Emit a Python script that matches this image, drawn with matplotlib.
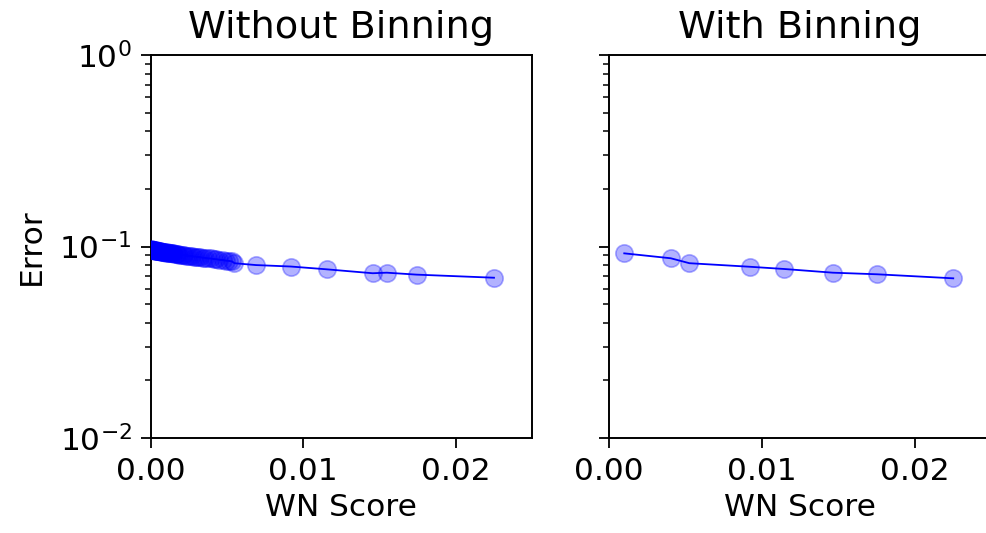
import numpy as np
import matplotlib
matplotlib.use('Agg')
import matplotlib.pyplot as plt

# WN score vs error, every run (left) and after binning (right)
wn_all = [0.00000, 0.00003, 0.00005, 0.00008, 0.00010, 0.00013, 0.00015, 0.00018,
          0.00020, 0.00024, 0.00027, 0.00030, 0.00034, 0.00037, 0.00040, 0.00044,
          0.00048, 0.00052, 0.00056, 0.00060, 0.00065, 0.00070, 0.00075, 0.00080,
          0.00085, 0.00090, 0.00096, 0.00102, 0.00108, 0.00114, 0.00120, 0.00127,
          0.00134, 0.00141, 0.00148, 0.00156, 0.00164, 0.00172, 0.00181, 0.00190,
          0.00200, 0.00210, 0.00221, 0.00232, 0.00244, 0.00256, 0.00269, 0.00282,
          0.00296, 0.00311, 0.00326, 0.00342, 0.00359, 0.00376, 0.00394, 0.00413,
          0.00432, 0.00452, 0.00472, 0.00493, 0.00514, 0.00535, 0.00550,
          0.0069, 0.0092, 0.01155, 0.01456, 0.01548, 0.01744, 0.02251]
err_all = [0.0968, 0.0962, 0.0966, 0.0960, 0.0964, 0.0958, 0.0962, 0.0957,
           0.0961, 0.0955, 0.0958, 0.0953, 0.0955, 0.0951, 0.0953, 0.0949,
           0.0950, 0.0946, 0.0947, 0.0943, 0.0945, 0.0940, 0.0941, 0.0937,
           0.0938, 0.0934, 0.0935, 0.0930, 0.0931, 0.0927, 0.0928, 0.0924,
           0.0924, 0.0920, 0.0920, 0.0916, 0.0916, 0.0912, 0.0912, 0.0907,
           0.0907, 0.0902, 0.0902, 0.0897, 0.0897, 0.0892, 0.0891, 0.0886,
           0.0886, 0.0880, 0.0879, 0.0874, 0.0872, 0.0867, 0.0866, 0.0860,
           0.0858, 0.0852, 0.0850, 0.0844, 0.0841, 0.0835, 0.0818,
           0.0800, 0.0786, 0.0760, 0.0725, 0.0730, 0.0713, 0.0687]

wn_binned = [0.00098, 0.00403, 0.00525, 0.00919, 0.01147, 0.01464, 0.01755, 0.02254]
err_binned = [0.0921, 0.0868, 0.0818, 0.0784, 0.0763, 0.0730, 0.0716, 0.0682]

W, H = 986, 533
fig = plt.figure(figsize=(W/100, H/100), dpi=100)
ax1 = fig.add_axes([150.5/W, 95/H, 381.5/W, 383/H])
ax2 = fig.add_axes([609.3/W, 95/H, 381.5/W, 383/H], sharey=ax1)

def draw_panel(ax, x, y, title):
    ax.plot(x, y, color='b', lw=1.3, zorder=2)
    ax.plot(x, y, 'o', color='b', alpha=0.3, ms=12.5, mew=1.2, zorder=3)
    ax.set_yscale('log')
    ax.set_ylim(1e-2, 1e0)
    ax.set_xlim(0, 0.025)
    ax.set_xticks([0.0, 0.01, 0.02])
    ax.set_xticklabels(['0.00', '0.01', '0.02'])
    ax.set_title(title, fontsize=27.5, pad=12)
    ax.set_xlabel('WN Score', fontsize=22.5, labelpad=5)
    ax.tick_params(which='major', length=7.5, width=1.3, labelsize=22.5, pad=6)
    ax.tick_params(which='minor', length=4.5, width=1.1)
    for s in ax.spines.values():
        s.set_linewidth(1.4)

draw_panel(ax1, wn_all, err_all, 'Without Binning')
draw_panel(ax2, wn_binned, err_binned, 'With Binning')
ax1.set_ylabel('Error', fontsize=22.5, labelpad=10)
plt.setp(ax2.get_yticklabels(), visible=False)

fig.savefig('out.png', dpi=100)
